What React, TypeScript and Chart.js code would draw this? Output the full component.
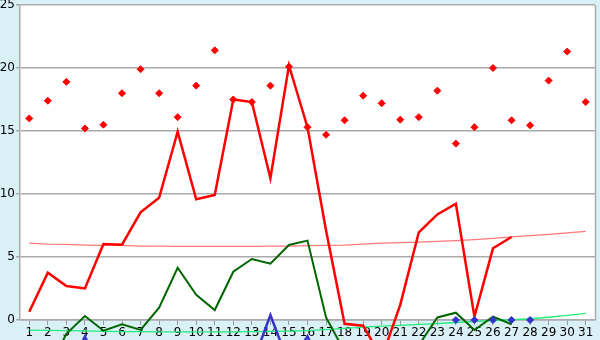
import React, { useEffect, useRef } from "react";
import { Chart, registerables } from "chart.js";

Chart.register(...registerables);

const categories = ["1","2","3","4","5","6","7","8","9","10","11","12","13","14","15","16","17","18","19","20","21","22","23","24","25","26","27","28","29","30","31"];

const redPoints = [16.0, 17.4, 18.9, 15.2, 15.5, 18.0, 19.9, 18.0, 16.1, 18.6, 21.4, 17.5, 17.3, 18.6, 20.1, 15.3, 14.7, 15.85, 17.8, 17.2, 15.9, 16.1, 18.2, 14.0, 15.3, 20.0, 15.85, 15.45, 19.0, 21.3, 17.3];

const redLine = [0.66, 3.76, 2.7, 2.5, 6.03, 5.98, 8.55, 9.7, 14.95, 9.58, 9.92, 17.5, 17.3, 11.25, 20.2, 15.3, 7.1, -0.3, -0.45, -3.0, 1.2, 6.96, 8.38, 9.23, 0.26, 5.69, 6.59, null, null, null, null];

const redTrend = [6.1, 6.02, 6.0, 5.95, 5.93, 5.92, 5.87, 5.86, 5.85, 5.85, 5.85, 5.85, 5.85, 5.86, 5.87, 5.9, 5.92, 5.95, 6.02, 6.1, 6.14, 6.18, 6.24, 6.3, 6.38, 6.48, 6.6, 6.7, 6.8, 6.92, 7.04];

const greenLine = [-4.0, -4.0, -1.1, 0.32, -0.85, -0.34, -0.79, 0.98, 4.15, 2.0, 0.79, 3.83, 4.84, 4.47, 5.95, 6.3, 0.2, -2.5, -3.0, -3.0, -3.0, -2.0, 0.2, 0.58, -0.79, 0.27, -0.34, null, null, null, null];

const blueLine = [-5.0, -5.0, -4.5, -1.3, -4.5, -5.0, -5.0, -5.0, -5.0, -5.0, -5.0, -5.0, -3.6, 0.4, -3.5, -1.3, -4.5, null, null, null, null, null, null, null, null, null, null, null, null, null, null];

const bluePoints = [null, null, null, null, null, null, null, null, null, null, null, null, null, null, null, null, null, null, null, null, null, null, null, 0, 0, 0, 0, 0, null, null, null];

const greenTrend = [-0.8, -0.82, -0.85, -0.87, -0.9, -0.92, -0.93, -0.94, -0.95, -0.95, -0.95, -0.94, -0.92, -0.9, -0.88, -0.84, -0.76, -0.66, -0.57, -0.49, -0.42, -0.35, -0.28, -0.2, -0.12, -0.05, 0.02, 0.1, 0.22, 0.37, 0.53];

const yTicks = [0, 5, 10, 15, 20, 25];

const bgPlugin = {
  id: "bgPlugin",
  beforeDraw(chart: any) {
    const { ctx, chartArea: a, width, height } = chart;
    ctx.save();
    ctx.fillStyle = "#daf0f7";
    ctx.fillRect(0, 0, width, height);
    ctx.fillStyle = "#ffffff";
    ctx.fillRect(a.left, a.top, a.right - a.left, a.bottom - a.top);
    ctx.strokeStyle = "#aaaaaa";
    ctx.lineWidth = 1.5;
    ctx.beginPath();
    ctx.moveTo(a.right + 0.5, a.top);
    ctx.lineTo(a.right + 0.5, a.bottom);
    ctx.stroke();
    ctx.restore();
  },
};

export default function App() {
  const ref = useRef<HTMLCanvasElement | null>(null);

  useEffect(() => {
    document.body.style.margin = "0";
    if (!ref.current) return;
    const font = { family: "'DejaVu Sans', Verdana, sans-serif", size: 12 };
    const chart = new Chart(ref.current, {
      type: "line",
      data: {
        labels: categories,
        datasets: [
          {
            label: "points",
            data: redPoints,
            showLine: false,
            pointStyle: "rectRot",
            pointRadius: 3.5,
            pointBackgroundColor: "#ff0000",
            pointBorderColor: "#ff0000",
            borderColor: "#ff0000",
            clip: false,
          },
          {
            label: "blue points",
            data: bluePoints,
            showLine: false,
            pointStyle: "rectRot",
            pointRadius: 3.5,
            pointBackgroundColor: "#3333cc",
            pointBorderColor: "#3333cc",
            borderColor: "#3333cc",
            clip: false,
          },
          {
            label: "red",
            data: redLine,
            borderColor: "#ff0000",
            borderWidth: 2.5,
            pointRadius: 0,
            tension: 0,
            spanGaps: false,
            clip: false,
          },
          {
            label: "green",
            data: greenLine,
            borderColor: "#006600",
            borderWidth: 2,
            pointRadius: 0,
            tension: 0,
            clip: false,
          },
          {
            label: "blue",
            data: blueLine,
            borderColor: "#3333cc",
            borderWidth: 2.5,
            pointRadius: 0,
            tension: 0,
            clip: false,
          },
          {
            label: "red trend",
            data: redTrend,
            borderColor: "#ff7878",
            borderWidth: 1.3,
            pointRadius: 0,
            tension: 0,
            clip: false,
          },
          {
            label: "green trend",
            data: greenTrend,
            borderColor: "#22ee77",
            borderWidth: 1.3,
            pointRadius: 0,
            tension: 0,
            clip: false,
          },
        ],
      },
      options: {
        animation: false,
        responsive: false,
        maintainAspectRatio: false,
        layout: { padding: { top: 5, right: 5, left: 0, bottom: 0 } },
        plugins: { legend: { display: false }, tooltip: { enabled: false } },
        scales: {
          x: {
            type: "category",
            offset: true,
            grid: {
              drawOnChartArea: false,
              drawTicks: true,
              tickLength: 5,
              color: "#999999",
              offset: false,
            },
            border: { display: true, color: "#aaaaaa", width: 1.5 },
            ticks: {
              font,
              color: "#000000",
              padding: 1,
              maxRotation: 0,
              minRotation: 0,
              autoSkip: false,
            },
            afterFit: (s: any) => {
              s.height = 20;
              s.paddingLeft = 0;
              s.paddingRight = 0;
            },
          },
          y: {
            min: 0,
            max: 25,
            afterBuildTicks: (s: any) => {
              s.ticks = yTicks.map((v) => ({ value: v }));
            },
            grid: {
              color: "#aaaaaa",
              lineWidth: 1.5,
              tickLength: 4,
              drawTicks: true,
            },
            border: { display: true, color: "#aaaaaa", width: 1.5 },
            ticks: { font, color: "#000000", padding: 1 },
            afterFit: (s: any) => {
              s.width = 20;
              s.paddingTop = 0;
              s.paddingBottom = 0;
            },
          },
        },
      },
      plugins: [bgPlugin],
    });
    return () => chart.destroy();
  }, []);

  return (
    <div style={{ width: 600, height: 340 }}>
      <canvas ref={ref} width={600} height={340} style={{ display: "block", width: 600, height: 340 }} />
    </div>
  );
}
